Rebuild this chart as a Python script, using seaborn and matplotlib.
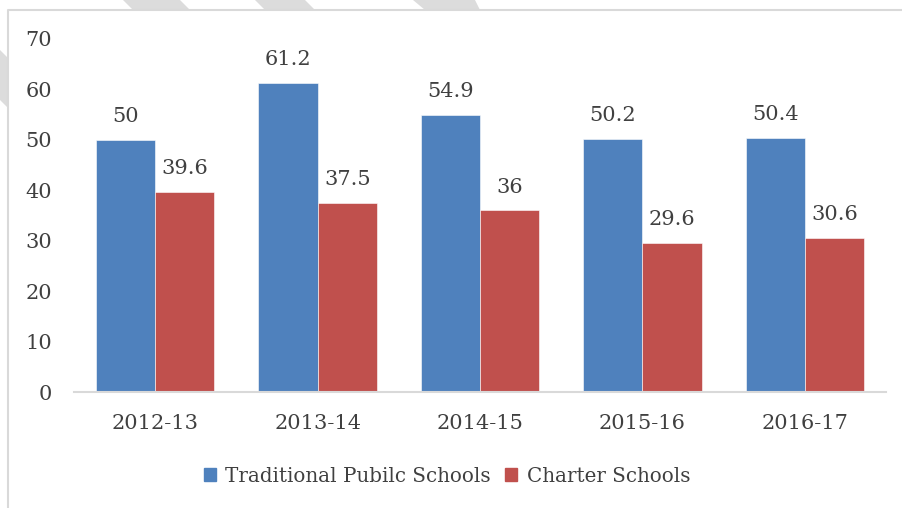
import pandas as pd
import matplotlib.pyplot as plt
import matplotlib.patches as mpatches
import matplotlib.lines as mlines
import seaborn as sns

# chart data
years = ['2012-13', '2013-14', '2014-15', '2015-16', '2016-17']
traditional = [50, 61.2, 54.9, 50.2, 50.4]
charter = [39.6, 37.5, 36, 29.6, 30.6]
series_names = ['Traditional Pubilc Schools', 'Charter Schools']
y_ticks = [0, 10, 20, 30, 40, 50, 60, 70]

colors = ['#4F81BD', '#C0504D']
text_color = '#404040'

df = pd.DataFrame({
    'year': years * 2,
    'value': traditional + charter,
    'school': [series_names[0]] * len(years) + [series_names[1]] * len(years),
})

sns.set_style('white')
plt.rcParams['font.family'] = ['DejaVu Serif']

W, H = 903, 508
fig = plt.figure(figsize=(W / 100, H / 100), dpi=100)


def fx(x):
    return x / W


def fy(y):
    return 1 - y / H


# faint watermark stripes behind the chart frame
stripes = [
    [(123, 0), (180, 0), (190, 10), (133, 10)],
    [(255, 0), (305, 0), (315, 10), (265, 10)],
    [(413, 0), (475, 0), (480, 10), (425, 10)],
    [(0, 50), (0, 100), (8, 108), (8, 58)],
]
for s in stripes:
    fig.patches.append(mpatches.Polygon([(fx(a), fy(b)) for a, b in s], closed=True,
                                        transform=fig.transFigure, facecolor='#dcdcdc',
                                        edgecolor='none', zorder=-3))

# chart frame: white panel, with only its left and top edges inside the picture
fig.patches.append(mpatches.Rectangle((fx(8), 0), 1 - fx(8), fy(10),
                                      transform=fig.transFigure, facecolor='white',
                                      edgecolor='none', zorder=-2))
fig.lines.append(mlines.Line2D([fx(8), fx(8), 1], [0, fy(10), fy(10)],
                               transform=fig.transFigure, color='#d9d9d9',
                               linewidth=1.5, zorder=-1))

ax = fig.add_axes([fx(74), fy(392), fx(886) - fx(74), fy(39) - fy(392)])
ax.set_facecolor('none')

sns.barplot(data=df, x='year', y='value', hue='school', palette=colors, width=0.73,
            saturation=1, edgecolor='white', linewidth=0.4, ax=ax)

for cont in ax.containers:
    ax.bar_label(cont, labels=[f'{v:g}' for v in cont.datavalues], padding=10,
                 fontsize=15, color=text_color)

ax.set_ylim(0, 70)
ax.set_yticks(y_ticks)
ax.set_xlabel('')
ax.set_ylabel('')
ax.tick_params(axis='both', length=0, labelsize=15, labelcolor=text_color)
ax.tick_params(axis='y', pad=16)
ax.tick_params(axis='x', pad=16)
for side in ['top', 'right', 'left']:
    ax.spines[side].set_visible(False)
ax.spines['bottom'].set_color('#d9d9d9')
ax.spines['bottom'].set_linewidth(1.5)

ax.get_legend().remove()
handles = [mpatches.Patch(color=c, label=n) for c, n in zip(colors, series_names)]
fig.legend(handles=handles, loc='center', bbox_to_anchor=(fx(447), fy(476)), ncol=2,
           frameon=False, fontsize=14.3, labelcolor=text_color, handlelength=0.6,
           handleheight=0.6, handletextpad=0.5, columnspacing=0.7)

fig.savefig('out.png', dpi=100)
